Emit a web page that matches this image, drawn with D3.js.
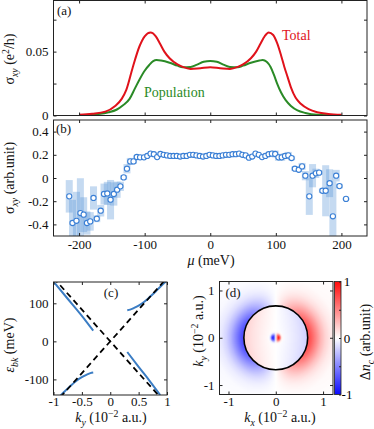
<!DOCTYPE html>
<html>
<head>
<meta charset="utf-8">
<script src="https://cdn.jsdelivr.net/npm/d3@7"></script>
<style>
  body { margin: 0; background: #fff; }
  svg, svg text { font-family: "Liberation Serif", "DejaVu Serif", serif; }
</style>
</head>
<body>
<svg id="fig" width="374" height="429"></svg>
<script>
// ---------- data ----------
// (a) theory: total and population contributions, sigma_xy (e^2/h) vs mu (meV)
var totalMu  = [-200,-180,-160,-145,-135,-128,-118,-108,-100,-91,-83,-77,-70,-62,-50,-42,-30,-15,0,15,30,42,50,62,70,77,83,89,96,102,108,113,118,123,130,138,150,163,180,200];
var totalSig = [0.0005,0.0013,0.003,0.0075,0.013,0.020,0.038,0.054,0.062,0.065,0.062,0.0566,0.050,0.0448,0.040,0.038,0.0364,0.037,0.0377,0.037,0.0364,0.038,0.040,0.0448,0.050,0.0566,0.062,0.065,0.063,0.0566,0.047,0.038,0.030,0.022,0.014,0.0092,0.005,0.0026,0.0012,0.0005];
var popMu  = [-200,-170,-155,-143,-133,-123,-115,-108,-100,-93,-87,-82,-75,-62,-50,-42,-30,-20,-10,0,10,20,30,42,50,62,75,80,86,92,97,102,108,115,123,133,145,163,200];
var popSig = [0.0003,0.0012,0.0025,0.0045,0.008,0.013,0.021,0.028,0.035,0.0395,0.0425,0.0434,0.043,0.0413,0.039,0.0378,0.038,0.0398,0.042,0.0427,0.042,0.0398,0.038,0.0378,0.039,0.0413,0.043,0.0434,0.042,0.038,0.032,0.025,0.018,0.012,0.0075,0.004,0.002,0.0006,0.0001];

// (b) measured sigma_xy (arb. unit) with error boxes
var expMu  = [-215,-210,-204,-198,-193,-188,-183,-178,-173,-167,-162,-157,-152,-147,-142,-137,-132,-127,-122,-117,-112,-107,
              -101,-96,-91,-86,-81,-76,-71,-66,-61,-56,-51,-46,-41,-36,-31,-26,-21,-16,-11,-6,-1,4,9,14,19,24,29,34,39,44,49,54,59,64,69,74,79,84,89,94,
              99,104,109,114,119,124,129,135,140,145,151,156,161,166,171,176,182,187,192,197,207];
var expSig = [-0.158,-0.388,-0.369,-0.302,-0.316,-0.388,-0.374,-0.172,-0.351,-0.282,-0.138,-0.133,-0.187,-0.138,-0.101,-0.072,0.005,0.08,0.143,0.143,0.181,0.178,
              0.178,0.19,0.21,0.205,0.18,0.207,0.2,0.195,0.19,0.19,0.19,0.185,0.19,0.19,0.2,0.2,0.195,0.19,0.185,0.19,0.2,0.195,0.19,0.19,0.195,0.2,0.2,0.205,0.205,0.21,0.2,0.195,0.175,0.185,0.21,0.2,0.18,0.19,0.205,0.21,
              0.207,0.178,0.178,0.19,0.195,0.172,0.08,0.071,0.10,0.02,-0.158,0.02,0.04,0.046,-0.11,-0.11,-0.045,-0.33,0.02,-0.07,-0.18];
var expErr = [0.14,0.2,0.25,0.3,0.15,0.1,0.08,0.1,0.03,0.05,0.09,0.1,0.17,0.1,0.07,0.04,0.02,0.04,0.03,0.02,0.015,0.01,
              0.01,0.006,0.006,0.006,0.006,0.006,0.006,0.006,0.006,0.006,0.006,0.006,0.006,0.006,0.006,0.006,0.006,0.006,0.006,0.006,0.006,0.006,0.006,0.006,0.006,0.006,0.006,0.006,0.006,0.006,0.006,0.006,0.006,0.006,0.006,0.006,0.006,0.006,0.01,0.02,
              0.03,0.03,0.03,0.025,0.03,0.02,0.02,0.02,0.03,0.04,0.16,0.1,0.04,0.02,0.02,0.22,0.12,0.3,0.05,0.02,0.01];

// (c) bands: k_y (1e-2 a.u.), energy (meV)
var diracK = [-1, 1];
var diracE = [167, -167];
var bandUL_k = [-0.99, -0.75, -0.5, -0.3];
var bandUL_e = [155, 112, 67, 28];
var bandLR_k = [0.3, 0.5, 0.7, 0.88];
var bandLR_e = [-28, -67, -105, -141];
var bandUR_k = [0.3, 0.35, 0.42, 0.5, 0.6, 0.7, 0.8, 0.9, 0.98];
var bandUR_e = [82, 83.5, 88, 94, 104, 117, 131, 146, 157];
var bandLL_k = [-0.3, -0.35, -0.42, -0.5, -0.6, -0.7, -0.8, -0.88];
var bandLL_e = [-82, -83.5, -88, -94, -104, -117, -131, -143];

// (d) Delta n_c map: radial profile along +k_x (left side is the mirror with opposite sign)
var radialR  = [0, 0.03, 0.06, 0.09, 0.12, 0.16, 0.3, 0.5, 0.62, 0.67, 0.685, 0.75, 0.85, 0.95, 1.05, 1.15, 1.3, 1.8];
var radialDn = [0, 0.6, 0.95, 0.6, 0.1, -0.02, -0.06, -0.12, -0.17, -0.2, 0.75, 0.66, 0.48, 0.3, 0.17, 0.09, 0.03, 0];
var fermiRadius = 0.675;

// ---------- helpers ----------
var svg = d3.select("#fig");
var ink = "#222";
var serif = "Liberation Serif, DejaVu Serif, serif";

function styleAxis(g) {
  g.select(".domain").remove();
  g.selectAll(".tick line").attr("stroke", ink);
  g.selectAll(".tick text").attr("fill", "#111").attr("font-size", 13).attr("font-family", serif);
  g.attr("font-size", null).attr("font-family", null);
}

function hy(d) { return String(d).replace("\u2212", "-"); }

function frame(x, y, xt, yt, xfmt, yfmt, pad) {
  var x0 = x.range()[0], x1 = x.range()[1], y0 = y.range()[0], y1 = y.range()[1];
  svg.append("g").attr("transform", "translate(0," + y0 + ")")
    .call(d3.axisBottom(x).tickValues(xt).tickSizeInner(-3).tickSizeOuter(0).tickPadding(pad).tickFormat(xfmt))
    .call(styleAxis);
  svg.append("g").attr("transform", "translate(0," + y1 + ")")
    .call(d3.axisTop(x).tickValues(xt).tickSizeInner(-3).tickSizeOuter(0).tickFormat(""))
    .call(styleAxis);
  svg.append("g").attr("transform", "translate(" + x0 + ",0)")
    .call(d3.axisLeft(y).tickValues(yt).tickSizeInner(-3).tickSizeOuter(0).tickPadding(5).tickFormat(yfmt))
    .call(styleAxis);
  svg.append("g").attr("transform", "translate(" + x1 + ",0)")
    .call(d3.axisRight(y).tickValues(yt).tickSizeInner(-3).tickSizeOuter(0).tickFormat(""))
    .call(styleAxis);
  svg.append("rect").attr("x", x0).attr("y", y1).attr("width", x1 - x0).attr("height", y0 - y1)
    .attr("fill", "none").attr("stroke", ink).attr("stroke-width", 1);
}

function clip(id, x, y) {
  svg.append("clipPath").attr("id", id).append("rect")
    .attr("x", x.range()[0]).attr("y", y.range()[1])
    .attr("width", x.range()[1] - x.range()[0]).attr("height", y.range()[0] - y.range()[1]);
}

// rich text: parts = [{t, i, sub, sup}]
function rich(t, parts) {
  var shift = 0;
  parts.forEach(function(p) {
    var target = p.sub ? 3.5 : (p.sup ? -5 : 0);
    var s = t.append("tspan").text(p.t).attr("dy", target - shift);
    shift = target;
    if (p.sub || p.sup) s.attr("font-size", "0.7em");
    if (p.i) s.attr("font-style", "italic");
  });
  return t;
}

function label(x, y, size, rot, parts, anchor, color) {
  var t = svg.append("text").attr("font-size", size).attr("fill", color || "#111")
    .attr("font-family", serif)
    .attr("text-anchor", anchor || "middle")
    .attr("transform", "translate(" + x + "," + y + ")" + (rot ? " rotate(" + rot + ")" : ""));
  return rich(t, parts);
}

// ---------- (a) ----------
var xA = d3.scaleLinear().domain([-239, 239]).range([53.5, 367]);
var yA = d3.scaleLinear().domain([0, 0.09]).range([115.5, 0.5]);
clip("clipA", xA, yA);

var lineA = d3.line().x(function(d) { return xA(d[0]); }).y(function(d) { return yA(d[1]); }).curve(d3.curveMonotoneX);
svg.append("path").datum(d3.zip(popMu, popSig)).attr("d", lineA)
  .attr("fill", "none").attr("stroke", "#2a8a26").attr("stroke-width", 2).attr("clip-path", "url(#clipA)");
svg.append("path").datum(d3.zip(totalMu, totalSig)).attr("d", lineA)
  .attr("fill", "none").attr("stroke", "#e0121b").attr("stroke-width", 2).attr("clip-path", "url(#clipA)");

frame(xA, yA, [-200, -100, 0, 100, 200], [0, 0.025, 0.05, 0.075], "",
  function(d) { return d === 0 ? "0" : (d === 0.05 ? "0.05" : ""); }, 5);
label(57, 15, 13, 0, [{t: "(a)"}], "start");
label(282, 40, 14, 0, [{t: "Total"}], "start", "#e0121b");
label(144, 97, 14, 0, [{t: "Population"}], "start", "#2a8a26");
label(14, 59, 14, -90, [{t: "\u03c3"}, {t: "xy", i: true, sub: true}, {t: " (e"}, {t: "2", sup: true}, {t: "/h)"}]);

// ---------- (b) ----------
var xB = d3.scaleLinear().domain([-239, 239]).range([53.5, 367]);
var yB = d3.scaleLinear().domain([-0.5, 0.5]).range([236, 120]);
clip("clipB", xB, yB);

var expData = expMu.map(function(m, i) { return {mu: m, s: expSig[i], e: expErr[i]}; });
svg.append("g").attr("clip-path", "url(#clipB)").selectAll("rect").data(expData).join("rect")
  .attr("x", function(d) { return xB(d.mu) - 3.5; })
  .attr("width", 7)
  .attr("y", function(d) { return yB(d.s + d.e); })
  .attr("height", function(d) { return yB(d.s - d.e) - yB(d.s + d.e); })
  .attr("fill", "#5a96d6").attr("fill-opacity", 0.35);
svg.append("g").attr("clip-path", "url(#clipB)").selectAll("circle").data(expData).join("circle")
  .attr("cx", function(d) { return xB(d.mu); })
  .attr("cy", function(d) { return yB(d.s); })
  .attr("r", 2.6)
  .attr("fill", "#fff").attr("stroke", "#3a7fd5").attr("stroke-width", 1.1);

frame(xB, yB, [-200, -100, 0, 100, 200], [-0.4, -0.2, 0, 0.2, 0.4],
  function(d) { return hy(d); }, function(d) { return hy(d); }, 4);
label(56, 133, 13, 0, [{t: "(b)"}], "start");
label(14, 178, 14, -90, [{t: "\u03c3"}, {t: "xy", i: true, sub: true}, {t: " (arb.unit)"}]);
label(211, 265, 14, 0, [{t: "\u03bc", i: true}, {t: " (meV)"}]);

// ---------- (c) ----------
var xC = d3.scaleLinear().domain([-1, 1]).range([53.5, 167]);
var yC = d3.scaleLinear().domain([-141, 156]).range([395, 282]);
clip("clipC", xC, yC);

var lineC = d3.line().x(function(d) { return xC(d[0]); }).y(function(d) { return yC(d[1]); }).curve(d3.curveMonotoneX);
var gC = svg.append("g").attr("clip-path", "url(#clipC)");
[[bandUL_k, bandUL_e], [bandLR_k, bandLR_e], [bandUR_k, bandUR_e], [bandLL_k, bandLL_e]].forEach(function(b) {
  var pts = d3.zip(b[0], b[1]).sort(function(p, q) { return p[0] - q[0]; });
  gC.append("path").datum(pts).attr("d", lineC)
    .attr("fill", "none").attr("stroke", "#3b7dc4").attr("stroke-width", 2);
});
gC.append("path").datum(d3.zip(diracK, diracE)).attr("d", lineC)
  .attr("fill", "none").attr("stroke", "#000").attr("stroke-width", 1.8).attr("stroke-dasharray", "6,4");
gC.append("path").datum(d3.zip(diracK, diracE.map(function(e) { return -e; }))).attr("d", lineC)
  .attr("fill", "none").attr("stroke", "#000").attr("stroke-width", 1.8).attr("stroke-dasharray", "6,4");

frame(xC, yC, [-1, -0.5, 0, 0.5, 1], [-100, 0, 100],
  function(d) { return hy(d); }, function(d) { return hy(d); }, 2);
label(111, 297, 13, 0, [{t: "(c)"}]);
label(14, 345, 14, -90, [{t: "\u03b5", i: true}, {t: "bk", i: true, sub: true}, {t: " (meV)"}]);
label(111, 422, 14, 0, [{t: "k", i: true}, {t: "y", i: true, sub: true}, {t: " (10"}, {t: "\u22122", sup: true}, {t: " a.u.)"}]);

// ---------- (d) ----------
var xD = d3.scaleLinear().domain([-1.19, 1.21]).range([219.5, 333]);
var yD = d3.scaleLinear().domain([-1.2, 1.19]).range([394.5, 281.5]);
clip("clipD", xD, yD);
var color = d3.scaleLinear().domain([-1, 0, 1]).range(["#0a0aff", "#ffffff", "#ff0a0a"]).clamp(true);
var profile = d3.scaleLinear().domain(radialR).range(radialDn).clamp(true);

var px0 = Math.floor(xD.range()[0]), px1 = Math.ceil(xD.range()[1]);
var py0 = Math.floor(yD.range()[1]), py1 = Math.ceil(yD.range()[0]);
var cw = px1 - px0, ch = py1 - py0;
var scale = 3;
var canvas = document.createElement("canvas");
canvas.width = cw * scale; canvas.height = ch * scale;
var ctx = canvas.getContext("2d");
var img = ctx.createImageData(canvas.width, canvas.height);
for (var j = 0; j < canvas.height; j++) {
  for (var i = 0; i < canvas.width; i++) {
    var kx = xD.invert(px0 + (i + 0.5) / scale);
    var ky = yD.invert(py0 + (j + 0.5) / scale);
    var r = Math.sqrt(kx * kx + ky * ky);
    var v = r > 0 ? profile(r) * kx / r : 0;
    var c = d3.rgb(color(v));
    var o = (j * canvas.width + i) * 4;
    img.data[o] = c.r; img.data[o + 1] = c.g; img.data[o + 2] = c.b; img.data[o + 3] = 255;
  }
}
ctx.putImageData(img, 0, 0);
svg.append("image").attr("x", px0).attr("y", py0).attr("width", cw).attr("height", ch)
  .attr("preserveAspectRatio", "none").attr("href", canvas.toDataURL())
  .attr("clip-path", "url(#clipD)");
svg.append("ellipse").attr("cx", xD(0)).attr("cy", yD(0))
  .attr("rx", xD(fermiRadius) - xD(0)).attr("ry", yD(0) - yD(fermiRadius))
  .attr("fill", "none").attr("stroke", "#000").attr("stroke-width", 1.6);

frame(xD, yD, [-1, 0, 1], [-1, 0, 1],
  function(d) { return hy(d); }, function(d) { return hy(d); }, 2);
label(233, 297, 13, 0, [{t: "(d)"}]);
label(203, 331, 14, -90, [{t: "k", i: true}, {t: "y", i: true, sub: true}, {t: " (10"}, {t: "\u22122", sup: true}, {t: " a.u.)"}]);
label(280, 422, 14, 0, [{t: "k", i: true}, {t: "x", i: true, sub: true}, {t: " (10"}, {t: "\u22122", sup: true}, {t: " a.u.)"}]);

// colorbar
var cbY = d3.scaleLinear().domain([-1, 1]).range([394.5, 281.5]);
var grad = svg.append("defs").append("linearGradient").attr("id", "cbGrad")
  .attr("x1", 0).attr("y1", 1).attr("x2", 0).attr("y2", 0);
grad.selectAll("stop").data(color.domain()).join("stop")
  .attr("offset", function(d) { return (d + 1) / 2; })
  .attr("stop-color", function(d) { return color(d); });
svg.append("rect").attr("x", 334.5).attr("y", cbY(1)).attr("width", 6.5).attr("height", cbY(-1) - cbY(1))
  .attr("fill", "url(#cbGrad)").attr("stroke", ink).attr("stroke-width", 0.8);
svg.append("g").attr("transform", "translate(341,0)")
  .call(d3.axisRight(cbY).tickValues([-1, -0.5, 0, 0.5, 1]).tickSizeInner(-2).tickSizeOuter(0).tickFormat(""))
  .call(styleAxis);
svg.selectAll(null).data([-1, 0, 1]).join("text")
  .attr("x", 347).attr("y", function(d) { return cbY(d); }).attr("dy", "0.35em")
  .attr("text-anchor", "middle").attr("font-size", 13).attr("font-family", serif)
  .text(function(d) { return hy(d); });
label(370, 342, 14, -90, [{t: "\u0394"}, {t: "n", i: true}, {t: "c", i: true, sub: true}, {t: " (arb.unit)"}]);
</script>
</body>
</html>
